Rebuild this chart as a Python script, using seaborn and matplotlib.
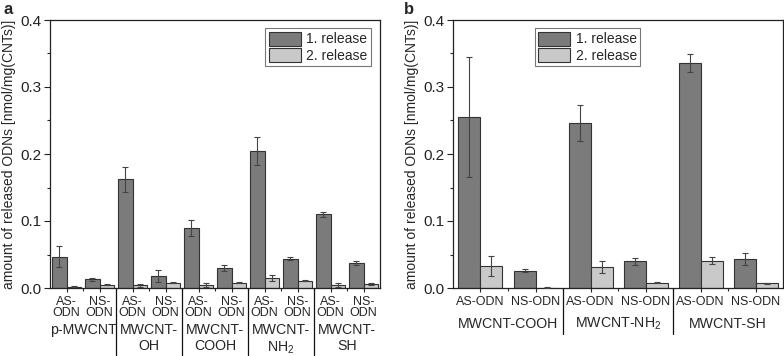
import numpy as np
import pandas as pd
import matplotlib
matplotlib.use("Agg")
import matplotlib.pyplot as plt
import matplotlib.transforms as mtransforms
from matplotlib.ticker import MultipleLocator, FixedLocator
import seaborn as sns

sns.set_style("ticks")
plt.rcParams['font.family'] = ['Liberation Sans', 'DejaVu Sans']
plt.rcParams['mathtext.fontset'] = 'custom'
plt.rcParams['mathtext.rm'] = 'Liberation Sans'
plt.rcParams['mathtext.it'] = 'Liberation Sans:italic'

# ---------------- data ----------------
releases = ["1. release", "2. release"]

# panel a
a_groups = ["p-MWCNT", "MWCNT-\nOH", "MWCNT-\nCOOH", "MWCNT-\nNH$_2$", "MWCNT-\nSH"]
a_sub = ["AS-\nODN", "NS-\nODN"]
a_rel1 = [0.047, 0.013, 0.162, 0.018, 0.090, 0.030, 0.205, 0.044, 0.110, 0.037]
a_rel1_err = [0.015, 0.002, 0.018, 0.009, 0.012, 0.005, 0.021, 0.002, 0.004, 0.003]
a_rel2 = [0.002, 0.005, 0.004, 0.008, 0.004, 0.008, 0.015, 0.011, 0.004, 0.006]
a_rel2_err = [0.001, 0.001, 0.002, 0.001, 0.003, 0.001, 0.004, 0.001, 0.003, 0.001]

# panel b
b_groups = ["MWCNT-COOH", "MWCNT-NH$_2$", "MWCNT-SH"]
b_sub = ["AS-ODN", "NS-ODN"]
b_rel1 = [0.255, 0.026, 0.246, 0.040, 0.336, 0.043]
b_rel1_err = [0.090, 0.002, 0.027, 0.005, 0.013, 0.009]
b_rel2 = [0.033, 0.0006, 0.032, 0.008, 0.041, 0.007]
b_rel2_err = [0.015, 0.0003, 0.009, 0.001, 0.005, 0.001]

ylabel = "amount of released ODNs [nmol/mg(CNTs)]"

DARK = "#7b7b7b"
LIGHT = "#c9c9c9"
EDGE = "#333333"
ERRC = "#444444"


def make_df(groups, subs, r1, r1e, r2, r2e):
    rows = []
    k = 0
    for g in groups:
        for s in subs:
            key = f"{k}"
            rows.append(dict(pos=key, release=releases[0], value=r1[k], err=r1e[k]))
            rows.append(dict(pos=key, release=releases[1], value=r2[k], err=r2e[k]))
            k += 1
    return pd.DataFrame(rows)


def draw(ax, groups, subs, r1, r1e, r2, r2e, width, two_line, sep_len, grp_y, legend_loc):
    df = make_df(groups, subs, r1, r1e, r2, r2e)
    order = [str(i) for i in range(len(r1))]
    sns.barplot(data=df, x="pos", y="value", hue="release", order=order,
                hue_order=releases, palette=[DARK, LIGHT], width=width,
                edgecolor=EDGE, linewidth=0.8, errorbar=None, ax=ax,
                saturation=1)
    # error bars from bar geometry
    errs = [r1e, r2e]
    bar_conts = list(ax.containers)
    for ci, cont in enumerate(bar_conts):
        xs = [p.get_x() + p.get_width() / 2 for p in cont.patches]
        hs = [p.get_height() for p in cont.patches]
        ax.errorbar(xs, hs, yerr=errs[ci], fmt="none", ecolor=ERRC,
                    elinewidth=0.8, capsize=2, capthick=0.8, zorder=5)
    n = len(r1)
    ax.set_xlim(-0.5, n - 0.5)
    ax.set_ylim(0, 0.4)
    ax.set_yticks([0, 0.1, 0.2, 0.3, 0.4])
    ax.set_yticklabels(["0.0", "0.1", "0.2", "0.3", "0.4"])
    ax.yaxis.set_minor_locator(MultipleLocator(0.05))
    ax.tick_params(axis="y", which="major", direction="out", length=4, width=0.8,
                   labelsize=11, pad=2, colors="#222222")
    ax.tick_params(axis="y", which="minor", direction="out", length=2.5, width=0.8)
    ax.set_xticks(range(n))
    ax.set_xticklabels(subs * len(groups), fontsize=9, linespacing=0.95)
    ax.xaxis.set_minor_locator(FixedLocator([k + 0.5 for k in range(n - 1)]))
    ax.tick_params(axis="x", which="major", direction="out", length=3, width=0.8, pad=2.5)
    ax.tick_params(axis="x", which="minor", direction="out", length=2.5, width=0.8)
    for sp in ax.spines.values():
        sp.set_linewidth(0.9)
        sp.set_color("#222222")
        sp.set_visible(True)
    ax.set_xlabel("")
    ax.set_ylabel(ylabel, fontsize=10, labelpad=3)
    trans = mtransforms.blended_transform_factory(ax.transData, ax.transAxes)
    for gi in range(1, len(groups)):
        xsep = gi * len(subs) - 0.5
        ax.plot([xsep, xsep], [0, -sep_len], transform=trans, color="#111111",
                lw=0.9, clip_on=False)
    for gi, g in enumerate(groups):
        xc = gi * len(subs) + (len(subs) - 1) / 2
        if two_line:
            ax.text(xc, grp_y, g, transform=trans, ha="center", va="top",
                    fontsize=10.2, linespacing=1.15)
        else:
            ax.text(xc, grp_y, g, transform=trans, ha="center", va="center",
                    fontsize=10.2)
    leg = ax.legend(loc=legend_loc[0], bbox_to_anchor=legend_loc[1], fontsize=10,
                    frameon=True, fancybox=False, edgecolor="#555555",
                    handlelength=2.3, handleheight=1.2, handletextpad=0.4,
                    borderpad=0.25, labelspacing=0.1, borderaxespad=0.3)
    leg.get_frame().set_linewidth(0.8)
    for h in leg.legend_handles:
        h.set_edgecolor(EDGE)
        h.set_linewidth(0.8)


fig = plt.figure(figsize=(7.84, 3.56), dpi=100)
ax_a = fig.add_axes([50 / 784, 1 - 288 / 356, 330 / 784, 268 / 356])
ax_b = fig.add_axes([453 / 784, 1 - 288 / 356, 330 / 784, 268 / 356])

draw(ax_a, a_groups, a_sub, a_rel1, a_rel1_err, a_rel2, a_rel2_err,
     width=0.85, two_line=True, sep_len=0.26, grp_y=-0.132,
     legend_loc=("upper right", (0.985, 0.985)))
draw(ax_b, b_groups, b_sub, b_rel1, b_rel1_err, b_rel2, b_rel2_err,
     width=0.8, two_line=False, sep_len=0.17, grp_y=-0.134,
     legend_loc=("upper left", (0.235, 0.985)))

fig.text(3 / 784, 1 - 9 / 356, "a", fontsize=12, fontweight="bold", va="center", ha="left")
fig.text(404 / 784, 1 - 9 / 356, "b", fontsize=12, fontweight="bold", va="center", ha="left")

fig.savefig("out.png", dpi=100)
